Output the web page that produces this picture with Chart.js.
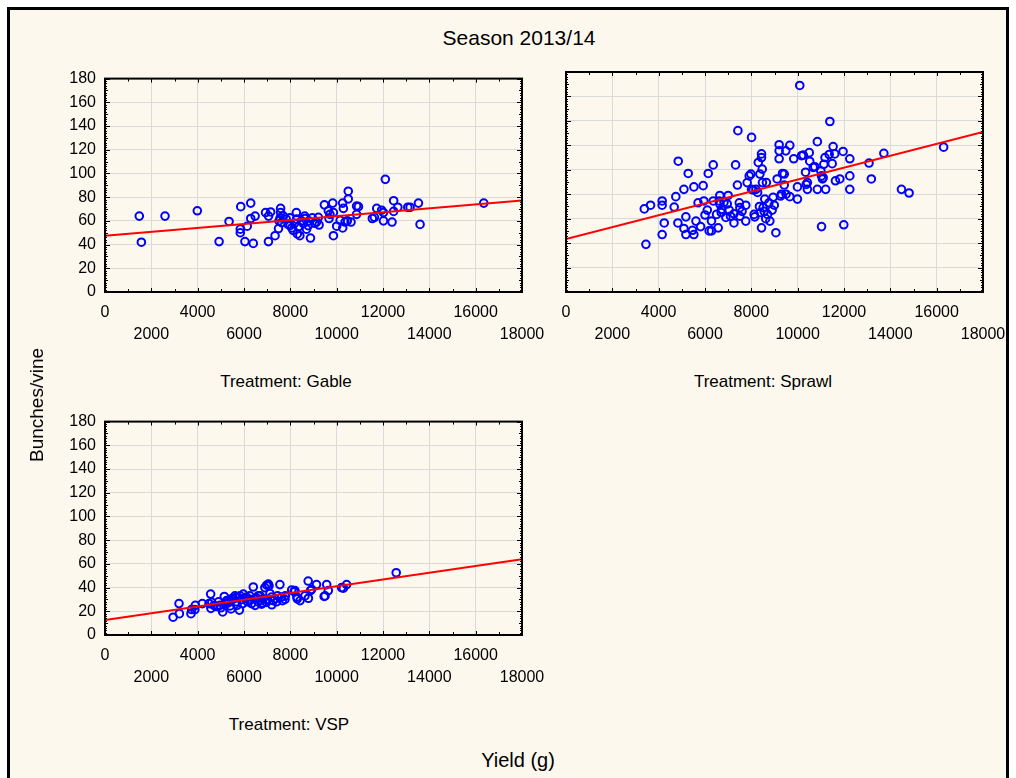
<!DOCTYPE html>
<html>
<head>
<meta charset="utf-8">
<script src="https://cdn.jsdelivr.net/npm/chart.js@4.4.1/dist/chart.umd.min.js"></script>
<style>
  html, body { margin: 0; padding: 0; background: #fff; overflow: hidden; }
  #page { position: relative; width: 1016px; height: 778px; font-family: "Liberation Sans", Arial, sans-serif; color: #000; }
  #frame { position: absolute; left: 7px; top: 7px; width: 1002px; height: 800px; background: #fdf8ee; border: 3px solid #000; box-sizing: border-box; }
  canvas { position: absolute; }
  .lbl { position: absolute; transform: translate(-50%, -50%); white-space: nowrap; }
</style>
</head>
<body>
<div id="page">
  <div id="frame"></div>
  <canvas id="gable" width="560" height="300" style="left:0px;top:60px;width:560px;height:300px"></canvas>
  <canvas id="sprawl" width="516" height="300" style="left:500px;top:60px;width:516px;height:300px"></canvas>
  <canvas id="vsp" width="560" height="300" style="left:0px;top:403px;width:560px;height:300px"></canvas>
  <div class="lbl" style="left:519px;top:38px;font-size:21px">Season 2013/14</div>
  <div class="lbl" style="left:286px;top:382px;font-size:17px">Treatment: Gable</div>
  <div class="lbl" style="left:763px;top:382px;font-size:17px">Treatment: Sprawl</div>
  <div class="lbl" style="left:289px;top:725px;font-size:17px">Treatment: VSP</div>
  <div class="lbl" style="left:518px;top:760px;font-size:20px">Yield (g)</div>
  <div class="lbl" style="left:37px;top:405px;font-size:19px;transform:translate(-50%,-50%) rotate(-90deg)">Bunches/vine</div>
</div>
<script>
// axis ticks
const yieldTicks = [0, 2000, 4000, 6000, 8000, 10000, 12000, 14000, 16000, 18000];
const bunchTicks = [0, 20, 40, 60, 80, 100, 120, 140, 160, 180];

// Treatment: Gable (yield g, bunches/vine)
const gableYield = [1480, 1570, 2590, 3985, 4925, 5355, 5860, 5840, 5840, 6140, 6040, 6290, 6290, 6400, 6480,
  6930, 7055, 7060, 7150, 7340, 7490, 7580, 7580, 7560, 7510, 7620, 7700, 7820, 7900, 7980, 7990, 8060, 8120,
  8180, 8260, 8270, 8300, 8350, 8410, 8480, 8560, 8620, 8630, 8700, 8770, 8800, 8870, 8950, 9050, 9130, 9210,
  9240, 9470, 9640, 9670, 9710, 9830, 9860, 9860, 10000, 10150, 10260, 10290, 10260, 10360, 10460, 10500,
  10500, 10620, 10860, 10940, 10860, 11540, 11630, 11730, 11940, 12020, 12020, 12100, 12390, 12460, 12460,
  12640, 13070, 13170, 13530, 13600, 16350];
const gableBunches = [64, 42, 64, 68.5, 42.5, 59.5, 72, 53, 50, 55.5, 42.5, 75, 62, 41, 64,
  67, 42.5, 64, 67.5, 47.5, 53.5, 70.5, 67, 62.5, 60, 58.5, 64, 61.5, 57, 62.5, 56, 54, 52,
  58, 67, 61.5, 49, 55, 47.5, 60, 58, 64, 62, 53, 56, 60, 45.5, 62.5, 58, 59, 63,
  56.5, 73.5, 68.5, 62, 65.5, 75, 67, 47.5, 55.5, 60.5, 75, 70.5, 54, 59, 60, 85,
  78.5, 59, 72.5, 72, 65.5, 62, 63, 70.5, 69, 67, 60, 95, 59, 77, 68,
  71.5, 71.5, 71.5, 75, 57, 75];
const gableFit = [47.5, 77.2];

// Treatment: Sprawl
const sprawlYield = [3380, 3450, 3650, 4150, 4150, 4150, 4240, 4670, 4740, 4845, 4830, 5090, 5090, 5175, 5175,
  5275, 5460, 5520, 5520, 5610, 5810, 5920, 5950, 6100, 6140, 6180, 6280, 6280, 6355, 6355, 6500, 6570, 6610,
  6640, 6640, 6710, 6900, 6960, 7000, 7045, 7250, 7320, 7400, 7420, 7480, 7505, 7505, 7760, 7760, 7820, 7910,
  7980, 8010, 8010, 8080, 8120, 8200, 8270, 8300, 8370, 8400, 8440, 8440, 8470, 8480, 8440, 8510, 8580, 8650,
  8700, 8800, 8940, 8990, 9060, 9115, 9200, 9200, 9200, 9260, 9300, 9345, 9420, 9420, 9490, 9660, 9660, 9830,
  9990, 9990, 10090, 10165, 10240, 10340, 10420, 10420, 10500, 10520, 10670, 10740, 10850, 10850, 11000, 11030,
  11030, 11070, 11100, 11130, 11180, 11210, 11360, 11390, 11490, 11530, 11600, 11630, 11820, 11960, 11990,
  12250, 12250, 12250, 13080, 13180, 13720, 14480, 14810, 16300, 6820, 8150, 6700, 7100, 7250, 7600, 8350,
  8550, 8620, 8760, 5700, 6000, 8900, 9500, 10370];
const sprawlBunches = [68, 39, 71, 74.5, 71, 47, 56.5, 69.5, 78, 107, 56.5, 84, 52, 61.5, 47,
  97, 50.5, 86, 47, 58, 53.5, 87, 74.5, 67, 97, 50, 50, 58, 104, 74.5, 63.5, 52.5, 74.5,
  79, 72, 67.5, 61, 72, 79, 67, 56.5, 104, 87.5, 132, 73, 69, 62, 71, 58, 89.5, 95,
  96.5, 126.5, 84, 83.5, 63.5, 84, 81.5, 106, 96.5, 65, 113, 110, 100.5, 89.5, 52.5, 69, 76, 89.5,
  63.5, 58, 77.5, 71, 48.5, 92.5, 120.5, 115.5, 109, 78.5, 80, 97, 96.5, 87.5, 115.5, 120, 78, 109,
  86, 76, 169, 111.5, 112, 98, 89.5, 84, 114, 107, 102, 102.5, 123, 84, 99, 95,
  53.5, 92.5, 93.5, 104.5, 110, 84, 112.5, 139.5, 105, 119, 113, 91, 92.5, 115, 55,
  109, 95, 84, 105.5, 92.5, 113.5, 84, 81, 118.5, 73.5, 61.5, 65, 62, 64, 66, 70,
  66, 60, 73, 73, 63, 67, 80, 88];
const sprawlFit = [43.3, 131];

// Treatment: VSP
const vspYield = [2940, 3195, 3210, 3710, 3740, 3880, 4200, 4490, 4560, 4570, 4610, 4820, 4960, 5080, 5150,
  5180, 5250, 5330, 5400, 5440, 5540, 5610, 5680, 5760, 5800, 5830, 5940, 5970, 6110, 6250, 6330, 6400, 6470,
  6480, 6610, 6690, 6760, 6830, 6900, 6970, 6980, 7050, 7080, 7190, 7200, 7260, 7340, 7550, 7620, 7660, 7770,
  7780, 8060, 8160, 8200, 8280, 8300, 8420, 8630, 8770, 8780, 8870, 8920, 9130, 9460, 9500, 9570, 9640, 10210,
  10290, 10430, 12570, 4700, 4900, 5000, 5300, 5500, 5650, 5700, 5900, 6050, 6150, 6300, 6550, 6600, 6700,
  6800, 7000, 7120, 7400, 7450, 3900];
const vspBunches = [15, 26.5, 18, 18, 21.5, 21.5, 26.5, 26.5, 34.5, 22.5, 27.5, 24, 25, 19.5, 32.5,
  26.5, 29, 29, 24.5, 22, 30.5, 33, 32, 31.5, 21, 33, 26.5, 34.5, 32, 33, 26.5, 40.5, 30.5,
  25, 33, 29, 26, 30.5, 40, 27.5, 42, 43, 41.5, 32, 25.5, 29, 30.5, 42.5, 32, 29, 30,
  33, 38, 36.5, 37.5, 32, 30.5, 29, 33, 45.5, 31, 37.5, 38.5, 42.5, 32.5, 33, 42.5, 37.5, 40,
  39.5, 42.5, 52.5, 25, 28, 23, 27, 31, 28, 25, 30, 31, 28, 30, 31, 28, 33,
  27, 30, 35, 28, 33, 25];
const vspFit = [12.6, 63.8];

const FONT = { family: '"Liberation Sans", Arial, sans-serif', size: 16 };

// black frame round the plot area plus the small STATISTICA-style ticks
const framePlugin = {
  id: 'frame',
  afterDraw(chart) {
    const { ctx, chartArea: a, scales: { x, y } } = chart;
    ctx.save();
    ctx.strokeStyle = '#000';
    ctx.lineWidth = 1;
    ctx.beginPath();
    for (let v = 0; v <= 18000; v += 1000) {
      const px = Math.round(x.getPixelForValue(v)) + 0.5;
      const len = v % 2000 === 0 ? 4 : 3;
      ctx.moveTo(px, a.bottom); ctx.lineTo(px, a.bottom - len);
      ctx.moveTo(px, a.top); ctx.lineTo(px, a.top + len);
    }
    for (let v = 0; v <= 180; v += 2) {
      const py = Math.round(y.getPixelForValue(v)) + 0.5;
      const len = v % 20 === 0 ? 5 : (v % 10 === 0 ? 3 : 2);
      ctx.moveTo(a.left, py); ctx.lineTo(a.left + len, py);
      ctx.moveTo(a.right, py); ctx.lineTo(a.right - len, py);
    }
    ctx.stroke();
    ctx.lineWidth = 2;
    ctx.strokeRect(a.left, a.top, a.right - a.left, a.bottom - a.top);
    ctx.restore();
  }
};

function makePanel(id, xs, ys, fit, showYLabels, padLeft, padRight) {
  const points = xs.map((v, i) => ({ x: v, y: ys[i] }));
  const line = [{ x: yieldTicks[0], y: fit[0] }, { x: yieldTicks[yieldTicks.length - 1], y: fit[1] }];
  new Chart(document.getElementById(id), {
    type: 'scatter',
    data: {
      datasets: [
        {
          data: line,
          showLine: true,
          borderColor: '#ff0000',
          borderWidth: 2,
          pointRadius: 0,
          order: 0
        },
        {
          data: points,
          pointStyle: 'circle',
          pointRadius: 3.8,
          pointBorderWidth: 2,
          pointBorderColor: '#0000ff',
          pointBackgroundColor: 'rgba(0,0,0,0)',
          order: 1
        }
      ]
    },
    options: {
      responsive: false,
      animation: false,
      layout: { padding: { left: padLeft, right: padRight, top: 12, bottom: 0 } },
      plugins: { legend: { display: false }, tooltip: { enabled: false } },
      scales: {
        x: {
          type: 'linear',
          min: 0,
          max: 18000,
          afterBuildTicks: s => { s.ticks = yieldTicks.map(v => ({ value: v })); },
          afterFit: s => { s.height = 68; },
          grid: { color: '#dadada', lineWidth: 1, drawTicks: false },
          border: { display: false },
          ticks: {
            color: '#000',
            font: { ...FONT, lineHeight: 1.4 },
            padding: 9,
            maxRotation: 0,
            autoSkip: false,
            callback: v => (v % 4000 === 0 ? String(v) : ['', String(v)])
          }
        },
        y: {
          type: 'linear',
          min: 0,
          max: 180,
          afterBuildTicks: s => { s.ticks = bunchTicks.map(v => ({ value: v })); },
          afterFit: s => { s.width = 60; },
          grid: { color: '#dadada', lineWidth: 1, drawTicks: false },
          border: { display: false },
          ticks: {
            display: showYLabels,
            color: '#000',
            font: FONT,
            padding: 9,
            autoSkip: false
          }
        }
      }
    },
    plugins: [framePlugin]
  });
}

makePanel('gable', gableYield, gableBunches, gableFit, true, 45, 38);
makePanel('sprawl', sprawlYield, sprawlBunches, sprawlFit, false, 6, 33);
makePanel('vsp', vspYield, vspBunches, vspFit, true, 45, 38);
</script>
</body>
</html>
